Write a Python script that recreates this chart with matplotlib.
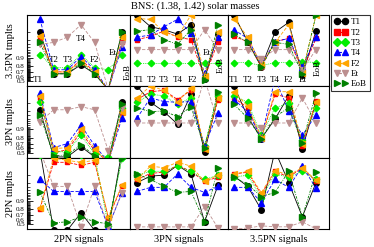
import matplotlib
matplotlib.use("Agg")
import matplotlib.pyplot as plt
import numpy as np
from matplotlib.ticker import FixedLocator, FixedFormatter, NullFormatter
from matplotlib.lines import Line2D

plt.rcParams['font.family'] = ['Liberation Serif', 'DejaVu Serif']

approximants = ['T1', 'T2', 'T3', 'T4', 'F2', 'Et', 'EoB']
row_labels = ['3.5PN tmplts', '3PN tmplts', '2PN tmplts']
col_labels = ['2PN signals', '3PN signals', '3.5PN signals']
title = 'BNS: (1.38, 1.42) solar masses'

# match values: one list per template family, across signal approximants T1..EoB
# rows = template PN order, columns = signal PN order
m35_s2 = [
    [0.990, 0.66, 0.66, 0.82, 0.66, 0.30, 0.990],
    [0.983, 0.70, 0.70, 0.88, 0.70, 0.30, 0.974],
    [0.923, 0.775, 0.775, 0.923, 0.775, 0.74, 0.923],
    [0.997, 0.74, 0.74, 0.908, 0.74, 0.30, 0.962],
    [0.985, 0.69, 0.70, 0.86, 0.69, 0.30, 0.984],
    [0.969, 0.974, 0.984, 0.995, 0.974, 0.30, 0.970],
    [0.974, 0.66, 0.66, 0.848, 0.66, 0.30, 0.990],
]
m35_s3 = [
    [0.998, 0.994, 0.992, 0.988, 0.995, 0.547, 0.988],
    [0.980, 0.985, 0.991, 0.984, 0.980, 0.570, 0.976],
    [0.848, 0.848, 0.848, 0.848, 0.848, 0.848, 0.848],
    [0.984, 0.987, 0.994, 0.997, 0.989, 0.680, 0.984],
    [0.9972, 0.997, 0.990, 0.985, 0.998, 0.616, 0.990],
    [0.950, 0.950, 0.950, 0.950, 0.950, 0.992, 0.950],
    [0.991, 0.992, 0.980, 0.969, 0.992, 0.523, 0.995],
]
m35_s35 = [
    [0.998, 0.976, 0.79, 0.990, 0.996, 0.64, 0.991],
    [0.985, 0.976, 0.79, 0.976, 0.982, 0.72, 0.982],
    [0.848, 0.848, 0.807, 0.848, 0.848, 0.86, 0.848],
    [0.992, 0.982, 0.82, 0.976, 0.982, 0.79, 0.984],
    [0.9972, 0.984, 0.82, 0.974, 0.995, 0.68, 0.998],
    [0.950, 0.950, 0.89, 0.950, 0.950, 0.74, 0.950],
    [0.988, 0.974, 0.79, 0.974, 0.969, 0.66, 0.998],
]
m3_s2 = [
    [0.982, 0.404, 0.404, 0.639, 0.404, 0.30, 0.991],
    [0.994, 0.50, 0.57, 0.871, 0.55, 0.30, 0.976],
    [0.9915, 0.523, 0.523, 0.835, 0.476, 0.404, 0.985],
    [0.996, 0.616, 0.70, 0.929, 0.66, 0.30, 0.962],
    [0.995, 0.594, 0.616, 0.90, 0.594, 0.30, 0.978],
    [0.946, 0.982, 0.982, 0.9865, 0.982, 0.547, 0.985],
    [0.9716, 0.428, 0.45, 0.681, 0.428, 0.30, 0.989],
]
m3_s3 = [
    [0.998, 0.991, 0.9785, 0.935, 0.9957, 0.523, 0.994],
    [0.993, 0.9966, 0.997, 0.993, 0.997, 0.594, 0.993],
    [0.991, 0.9957, 0.995, 0.989, 0.994, 0.66, 0.995],
    [0.962, 0.994, 0.9915, 0.991, 0.9915, 0.66, 0.976],
    [0.994, 0.998, 0.997, 0.9915, 0.9975, 0.594, 0.994],
    [0.941, 0.941, 0.941, 0.941, 0.941, 0.999, 0.941],
    [0.985, 0.9785, 0.980, 0.966, 0.9865, 0.616, 0.9966],
]
m3_s35 = [
    [0.998, 0.966, 0.79, 0.959, 0.995, 0.594, 0.9915],
    [0.994, 0.985, 0.80, 0.9957, 0.994, 0.66, 0.992],
    [0.995, 0.991, 0.835, 0.985, 0.990, 0.758, 0.985],
    [0.993, 0.9785, 0.80, 0.999, 0.980, 0.835, 0.9716],
    [0.9966, 0.987, 0.80, 0.9966, 0.9966, 0.70, 0.991],
    [0.941, 0.941, 0.908, 0.941, 0.941, 0.994, 0.941],
    [0.989, 0.962, 0.79, 0.966, 0.985, 0.72, 0.996],
]
m2_s2 = [
    [0.999, 0.35, 0.35, 0.74, 0.35, 0.35, 0.999],
    [0.807, 0.997, 0.997, 0.996, 0.997, 0.639, 0.9716],
    [0.9985, 0.9985, 0.9985, 0.9985, 0.9985, 0.45, 0.998],
    [0.985, 0.955, 0.955, 0.955, 0.955, 0.428, 0.950],
    [0.821, 0.998, 0.9975, 0.997, 0.9975, 0.66, 0.974],
    [0.999, 0.9716, 0.9716, 0.428, 0.9716, 0.428, 0.950],
    [0.951, 0.523, 0.547, 0.66, 0.547, 0.50, 0.998],
]
m2_s3 = [
    [0.980, 0.989, 0.990, 0.996, 0.991, 0.547, 0.974],
    [0.985, 0.9915, 0.9924, 0.996, 0.993, 0.982, 0.988],
    [0.990, 0.993, 0.993, 0.9957, 0.993, 0.985, 0.990],
    [0.955, 0.969, 0.969, 0.991, 0.969, 0.951, 0.9716],
    [0.985, 0.9957, 0.995, 0.997, 0.9957, 0.982, 0.990],
    [0.428, 0.428, 0.428, 0.428, 0.428, 0.835, 0.404],
    [0.991, 0.985, 0.9716, 0.951, 0.955, 0.547, 0.995],
]
m2_s35 = [
    [0.989, 0.9716, 0.79, 0.999, 0.980, 0.66, 0.980],
    [0.991, 0.9924, 0.941, 0.993, 0.988, 0.995, 0.982],
    [0.988, 0.990, 0.923, 0.991, 0.988, 0.993, 0.985],
    [0.969, 0.969, 0.881, 0.985, 0.969, 0.9957, 0.966],
    [0.991, 0.993, 0.950, 0.9935, 0.990, 0.995, 0.984],
    [0.382, 0.40, 0.452, 0.43, 0.43, 0.547, 0.382],
    [0.988, 0.976, 0.929, 0.951, 0.993, 0.66, 0.9924],
]

panels = [
    [m35_s2, m35_s3, m35_s35],
    [m3_s2, m3_s3, m3_s35],
    [m2_s2, m2_s3, m2_s35],
]

styles = {
    'T1': dict(color='black', marker='o', ls='-'),
    'T2': dict(color='red', marker='s', ls=(0, (4, 1.5))),
    'T3': dict(color='#00ee00', marker='D', ls=(0, (1, 1.2))),
    'T4': dict(color='blue', marker='^', ls=(0, (4, 2))),
    'F2': dict(color='orange', marker='<', ls=(0, (4, 2))),
    'Et': dict(color='rosybrown', marker='v', ls=(0, (4, 2))),
    'EoB': dict(color='green', marker='>', ls=(0, (3, 1.5, 1, 1.5))),
}
msize = {'T1': 4.0, 'T2': 3.4, 'T3': 3.3, 'T4': 3.8, 'F2': 3.8, 'Et': 3.8, 'EoB': 3.8}

# panel geometry (pixels of a 374x247 canvas)
W, H = 374, 247
col_edges = [27, 130, 228, 329]
row_edges = [15, 86, 158, 229]
col_xlims = [(0.05, 7.59), (0.48, 7.74), (0.56, 7.95)]
ylims = (0.38, 0.998)

# approximant labels in the top row (axes fraction y, data x offset)
top_label_y = [
    [0.085, 0.36, 0.36, 0.66, 0.36, 0.46, 0.20],
    [0.085, 0.085, 0.085, 0.085, 0.085, 0.46, 0.30],
    [0.085, 0.085, 0.085, 0.085, 0.085, 0.085, 0.25],
]
top_label_dx = [
    [-0.15, 0.0, 0.0, 0.0, 0.0, 0.35, 0.45],
    [0.1, 0.1, 0.0, 0.0, 0.1, 0.15, 0.2],
    [0.0, 0.0, 0.0, 0.0, 0.0, 0.0, 0.15],
]

fig = plt.figure(figsize=(W / 100, H / 100), dpi=100)

major = [0.5, 0.6, 0.7, 0.8, 0.9]
minor = [round(v, 2) for v in np.arange(0.51, 0.995, 0.01) if round(v, 2) not in major]

x = np.arange(1, 8)
for r in range(3):
    for c in range(3):
        left = col_edges[c] / W
        width = (col_edges[c + 1] - col_edges[c]) / W
        bottom = 1 - row_edges[r + 1] / H
        height = (row_edges[r + 1] - row_edges[r]) / H
        ax = fig.add_axes([left, bottom, width, height])
        data = panels[r][c]
        for k, name in enumerate(approximants):
            st = styles[name]
            ax.plot(x, data[k], color=st['color'], ls=st['ls'], lw=0.6,
                    marker=st['marker'], ms=msize[name], mec=st['color'],
                    mfc=st['color'], zorder=2 + k)
        ax.set_yscale('logit')
        ax.set_ylim(*ylims)
        ax.set_xlim(*col_xlims[c])
        ax.set_xticks([])
        for s in ax.spines.values():
            s.set_linewidth(0.8)
        if c == 0:
            ax.yaxis.set_major_locator(FixedLocator(major))
            ax.yaxis.set_major_formatter(FixedFormatter([str(v) for v in major]))
            ax.yaxis.set_minor_locator(FixedLocator(minor))
            ax.yaxis.set_minor_formatter(NullFormatter())
            ax.tick_params(axis='y', which='major', direction='in', length=4,
                           width=0.6, labelsize=5, pad=1.5)
            ax.tick_params(axis='y', which='minor', direction='in', length=2,
                           width=0.5)
            ax.set_ylabel(row_labels[r], fontsize=7.5, labelpad=1)
        else:
            ax.set_yticks([])
            ax.yaxis.set_minor_locator(FixedLocator([]))
        if r == 0:
            for k, name in enumerate(approximants):
                rot = 90 if name == 'EoB' else 0
                ax.text(x[k] + top_label_dx[c][k], top_label_y[c][k], name,
                        transform=ax.get_xaxis_transform(), ha='center',
                        va='center', fontsize=6.5, rotation=rot, zorder=20)
        if r == 2:
            ax.set_xlabel(col_labels[c], fontsize=7.5, labelpad=4)

fig.text(195 / W, 1 - 6 / H, title, ha='center', va='center', fontsize=7.5)

handles = []
for name in approximants:
    st = styles[name]
    handles.append(Line2D([], [], color=st['color'], ls='-' if name in ('T1', 'T2') else st['ls'],
                          lw=0.8, marker=st['marker'], ms=msize[name] + 0.4,
                          mec=st['color'], mfc=st['color']))
leg = fig.legend(handles, approximants, loc='upper left',
                 bbox_to_anchor=(331 / W, 1 - 15 / H), numpoints=2,
                 handlelength=1.5, fontsize=6.5, frameon=True, fancybox=False,
                 edgecolor='black', borderpad=0.35, labelspacing=0.22,
                 handletextpad=0.35, borderaxespad=0)
leg.get_frame().set_linewidth(0.8)

plt.savefig('out.png', dpi=100)
